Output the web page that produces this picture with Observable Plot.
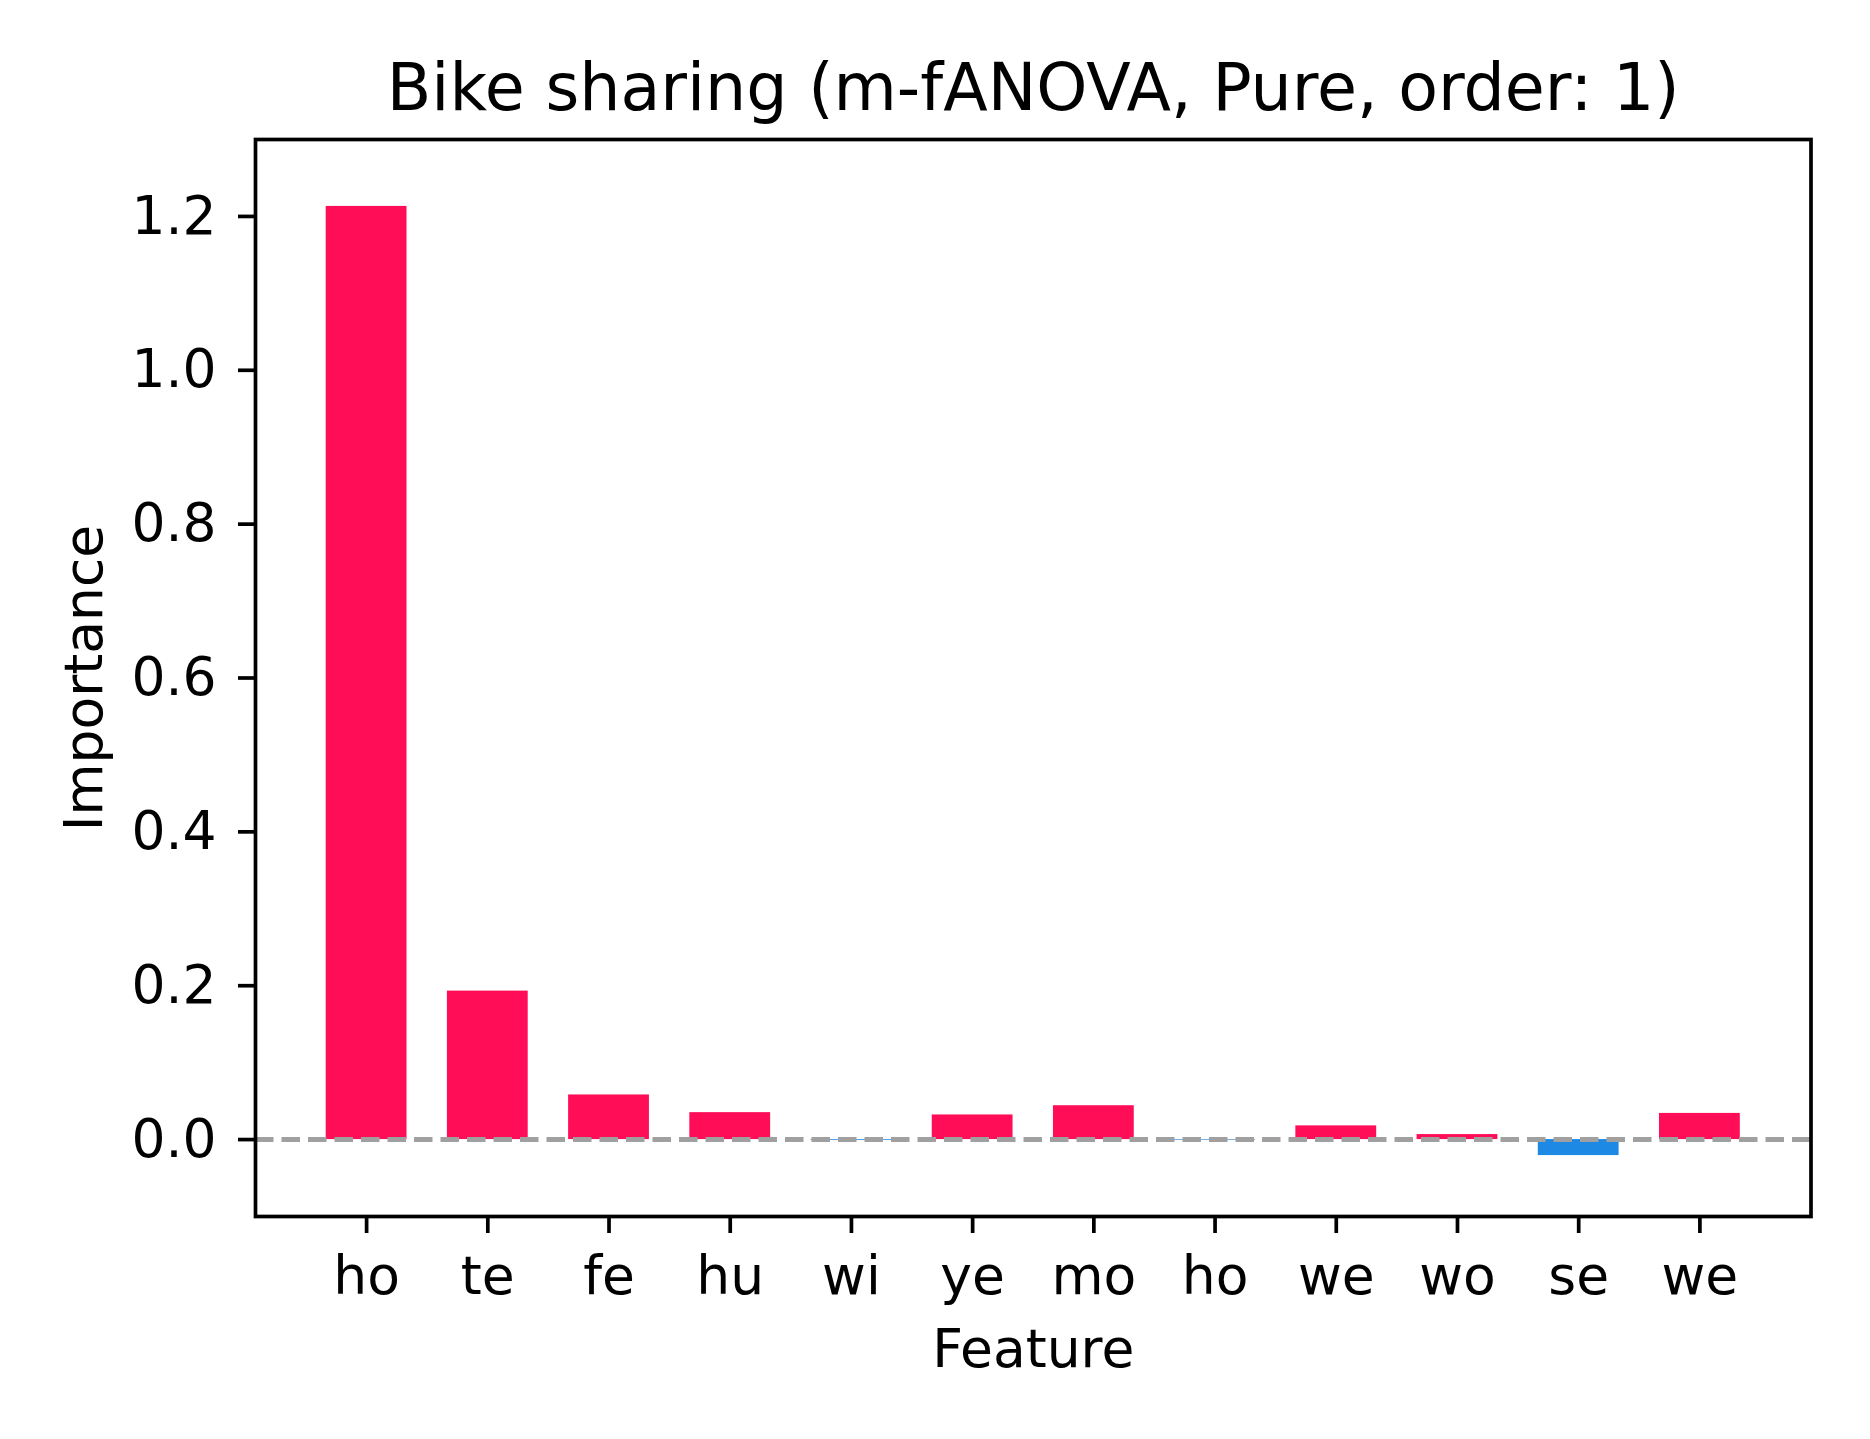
<!DOCTYPE html>
<html>
<head>
<meta charset="utf-8">
<script src="https://cdn.jsdelivr.net/npm/d3@7"></script>
<script src="https://cdn.jsdelivr.net/npm/@observablehq/plot@0.6"></script>
<style>
  html, body { margin: 0; padding: 0; background: #ffffff; }
  #chart svg { display: block; }
</style>
</head>
<body>
<div id="chart"></div>
<script>
// ---- data ----
const title = "Bike sharing (m-fANOVA, Pure, order: 1)";
const features = ["ho", "te", "fe", "hu", "wi", "ye", "mo", "ho", "we", "wo", "se", "we"];
const importance = [1.213, 0.193, 0.058, 0.035, -0.001, 0.032, 0.044, -0.0008, 0.0178, 0.0065, -0.0208, 0.034];
const yTicks = [0.0, 0.2, 0.4, 0.6, 0.8, 1.0, 1.2];
const yDomain = [-0.1, 1.3];
const xLabel = "Feature";
const yLabel = "Importance";
const posColor = "#FF0D57";
const negColor = "#1E88E5";

const rows = features.map((f, i) => ({i, feature: f, value: importance[i]}));
const fs = 53.5;
const centered = {textAnchor: "middle", lineAnchor: "middle", fill: "#000000"};

const chart = Plot.plot({
  width: 1870,
  height: 1439,
  marginLeft: 255,
  marginRight: 59.5,
  marginTop: 139,
  marginBottom: 223,
  style: {fontFamily: "DejaVu Sans", background: "#ffffff", color: "#000000"},
  x: {type: "band", domain: rows.map(d => d.i), paddingInner: 1/3, paddingOuter: 0.5833, round: false},
  y: {domain: yDomain},
  color: {type: "identity"},
  marks: [
    Plot.barY(rows, {x: "i", y: "value", fill: d => d.value >= 0 ? posColor : negColor}),
    Plot.ruleY([0], {stroke: "#a0a0a0", strokeWidth: 5, strokeDasharray: "18.5,8"}),
    Plot.frame({stroke: "#000000", strokeWidth: 3.7}),
    Plot.axisY({ticks: yTicks, tickFormat: d3.format(".1f"), tickSize: 17, tickPadding: 22,
      fontSize: fs, strokeWidth: 3.7, label: null}),
    Plot.axisX({tickFormat: i => features[i], tickSize: 17, tickPadding: 22,
      fontSize: fs, strokeWidth: 3.7, label: null}),
    Plot.text([yLabel], {...centered, frameAnchor: "left", rotate: -90, dx: -170.5, fontSize: fs}),
    Plot.text([xLabel], {...centered, frameAnchor: "bottom", dy: 133, fontSize: fs}),
    Plot.text([title], {...centered, frameAnchor: "top", dy: -50, fontSize: 65})
  ]
});
document.getElementById("chart").appendChild(chart);
</script>
</body>
</html>
